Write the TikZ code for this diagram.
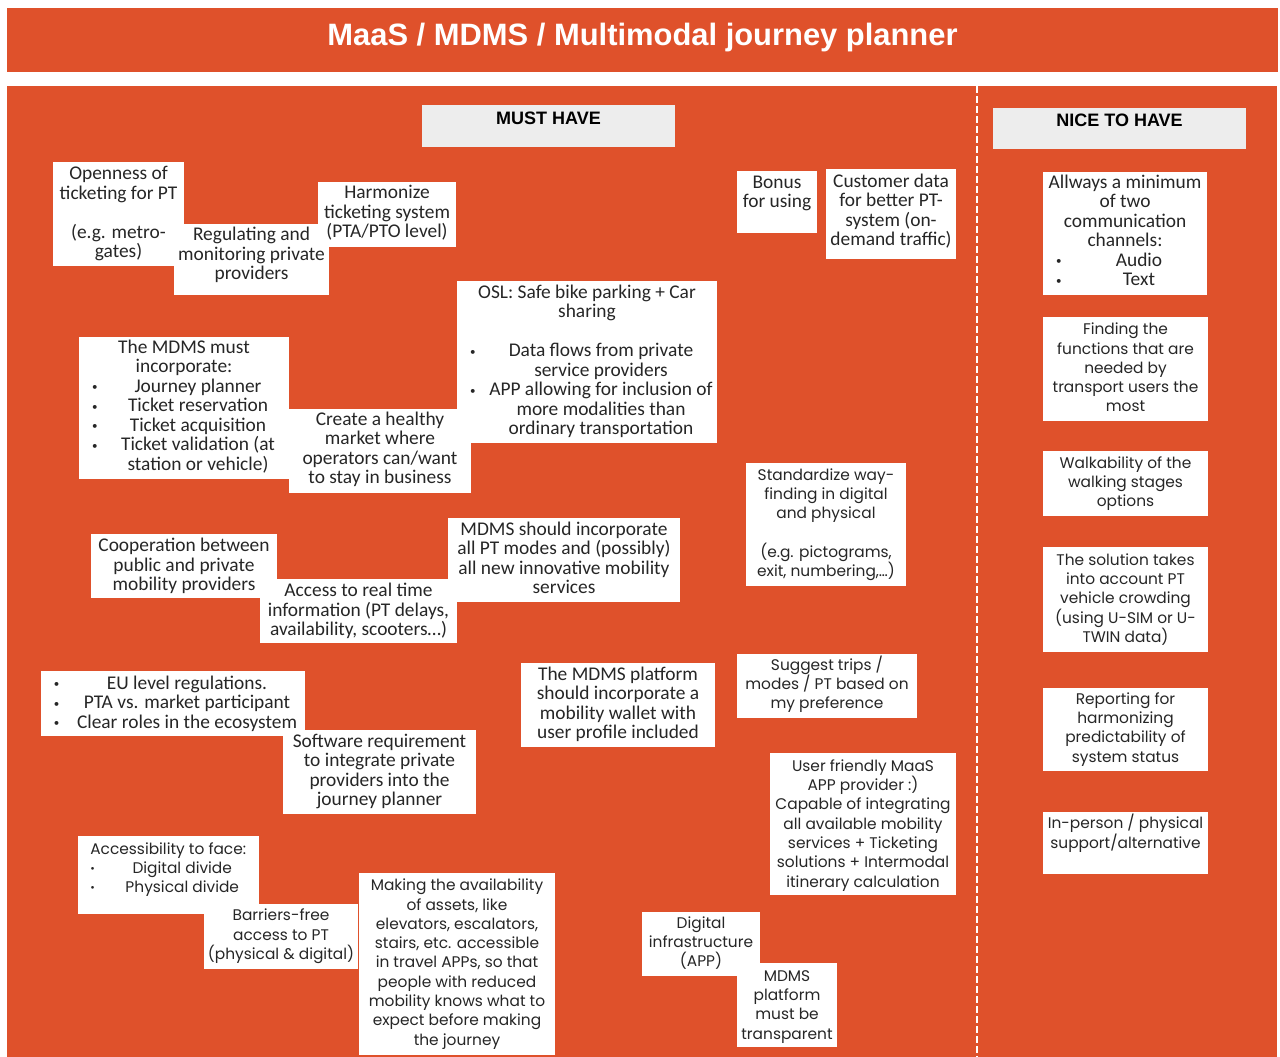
\documentclass[tikz,border=0pt]{standalone}
\usepackage{fontspec}
\setmainfont{Liberation Sans}
\newfontfamily\nar{Carlito}
\newfontfamily\wid{Poppins}
\usetikzlibrary{fit}
\definecolor{org}{RGB}{223,81,43}
\definecolor{hdr}{RGB}{237,237,237}
\definecolor{txt}{RGB}{38,38,38}
\newcommand\dotb{\raisebox{1.5pt}{\fontsize{11}{11}\selectfont\textbullet}}
\newcommand\bul[2]{\hbox to #1pt{\hspace{13pt}\makebox[15pt][l]{\dotb}\hfil #2\hfil}}
\newcommand\nob[2]{\hbox to #1pt{\hspace{28pt}\hfil #2\hfil}}
\newcommand\card[8]{%
  \node[card, fit={(#2,#3) (#4,#5)}] (#1) {};
  \node[#6] (#1t) at ({(#2+#4)/2},{#7-16}) {\rule{0pt}{16pt}#8};}
\tikzset{
  card/.style={fill=white, inner sep=0pt, draw=none},
  hdrbox/.style={fill=hdr, inner sep=0pt, draw=none},
  hdrtxt/.style={anchor=base, inner sep=0pt, text=black, font=\bfseries\fontsize{18}{22}\selectfont},
  nar/.style={anchor=north, align=center, inner sep=0pt, text=txt, font=\nar\fontsize{19.4}{19.5}\selectfont},
  wid/.style={anchor=north, align=center, inner sep=0pt, text=txt, font=\wid\fontsize{15.4}{19.3}\selectfont},
}
\begin{document}
\begin{tikzpicture}[x=1pt,y=-1pt]
\useasboundingbox (0,0) rectangle (1280,1057);
\fill[white] (0,0) rectangle (1280,1057);
\node[fill=org, inner sep=0pt, fit={(7,8) (1278,72)}] (bar) {};
\node[anchor=base, inner sep=0pt, text=white, font=\bfseries\fontsize{30.9}{36}\selectfont] (title) at (642.5,46) {MaaS / MDMS / Multimodal journey planner};
\node[fill=org, inner sep=0pt, fit={(7,86) (1277,1057)}] (panel) {};
\coordinate (dtop) at (977,86);
\coordinate (dbot) at (977,1057);
\draw[white, line width=2.5pt, dash pattern=on 7pt off 3pt] (dtop) -- (dbot);
\node[hdrbox, fit={(422,105) (675,147)}] (must) {};
\node[hdrtxt] (mustt) at (548.5,124) {MUST HAVE};
\node[hdrbox, fit={(993,108) (1246,149)}] (nice) {};
\node[hdrtxt] (nicet) at (1119.5,126) {NICE TO HAVE};
% must have - narrow font
\card{open}{53}{162}{184}{266}{nar}{179.5}{Openness of\\ticketing for PT\\[19.5pt](e.g. metro-\\gates)}
\card{regul}{174}{224}{329}{295}{nar}{240.5}{Regulating and\\monitoring private\\providers}
\card{harm}{318}{182}{456}{247}{nar}{198.5}{Harmonize\\ticketing system\\(PTA/PTO level)}
\card{bonus}{737}{171}{817}{233}{nar}{188}{Bonus\\for using}
\card{cust}{826}{169}{956}{259}{nar}{187}{Customer data\\for better PT-\\system (on-\\demand traffic)}
\card{osl}{457}{281}{717}{443}{nar}{298}{OSL: Safe bike parking + Car\\sharing\\[19.5pt]\bul{260}{Data flows from private}\\\nob{260}{service providers}\\\bul{260}{APP allowing for inclusion of}\\\nob{260}{more modalities than}\\\nob{260}{ordinary transportation}}
\card{mdms}{79}{337}{289}{479}{nar}{353}{The MDMS must\\incorporate:\\\bul{210}{Journey planner}\\\bul{210}{Ticket reservation}\\\bul{210}{Ticket acquisition}\\\bul{210}{Ticket validation (at}\\\nob{210}{station or vehicle)}}
\card{healthy}{289}{409}{471}{493}{nar}{425}{Create a healthy\\market where\\operators can/want\\to stay in business}
\card{coop}{91}{534}{277}{598}{nar}{551.5}{Cooperation between\\public and private\\mobility providers}
\card{should}{448}{518}{680}{602}{nar}{535}{MDMS should incorporate\\all PT modes and (possibly)\\all new innovative mobility\\services}
\card{access}{260}{579}{457}{643}{nar}{596.5}{Access to real time\\information (PT delays,\\availability, scooters…)}
\card{eu}{41}{671}{305}{736}{nar}{689}{\bul{264}{EU level regulations.}\\\bul{264}{PTA vs. market participant}\\\bul{264}{Clear roles in the ecosystem}}
\card{soft}{283}{730}{476}{814}{nar}{747}{Software requirement\\to integrate private\\providers into the\\journey planner}
\card{wallet}{521}{663}{715}{747}{nar}{680}{The MDMS platform\\should incorporate a\\mobility wallet with\\user profile included}
% must have - wide font
\card{acc}{77.5}{836}{259}{914}{wid}{854}{Accessibility to face:\\\bul{181.5}{Digital divide}\\\bul{181.5}{Physical divide}}
\card{barr}{204}{904}{358}{969}{wid}{920.5}{Barriers-free\\access to PT\\(physical \& digital)}
\card{making}{359}{873}{555}{1055}{wid}{890.5}{Making the availability\\of assets, like\\elevators, escalators,\\stairs, etc. accessible\\in travel APPs, so that\\people with reduced\\mobility knows what to\\expect before making\\the journey}
\card{stand}{746}{463}{906}{586}{wid}{480}{Standardize way-\\finding in digital\\and physical\\[19.3pt](e.g. pictograms,\\exit, numbering,…)}
\card{sugg}{737}{654}{917}{718}{wid}{670}{Suggest trips /\\modes / PT based on\\my preference}
\card{user}{770}{753}{956}{895}{wid}{771}{User friendly MaaS\\APP provider :)\\Capable of integrating\\all available mobility\\services + Ticketing\\solutions + Intermodal\\itinerary calculation}
\card{digi}{642}{912}{760}{976}{wid}{928}{Digital\\infrastructure\\(APP)}
\card{transp}{737}{963}{837}{1047}{wid}{981}{MDMS\\platform\\must be\\transparent}
% nice to have
\card{allw}{1043}{172}{1207}{295}{nar}{188}{Allways a minimum\\of two\\communication\\channels:\\\bul{164}{Audio}\\\bul{164}{Text}}
\card{find}{1043}{317}{1208}{421}{wid}{334.5}{Finding the\\functions that are\\needed by\\transport users the\\most}
\card{walk}{1043}{451}{1208}{516}{wid}{468}{Walkability of the\\walking stages\\options}
\card{sol}{1043}{547}{1208}{652}{wid}{565}{The solution takes\\into account PT\\vehicle crowding\\(using U-SIM or U-\\TWIN data)}
\card{rep}{1043}{688}{1208}{771}{wid}{704}{Reporting for\\harmonizing\\predictability of\\system status}
\card{inp}{1043}{812}{1208}{874}{wid}{828.5}{In-person / physical\\support/alternative}
\end{tikzpicture}
\end{document}
